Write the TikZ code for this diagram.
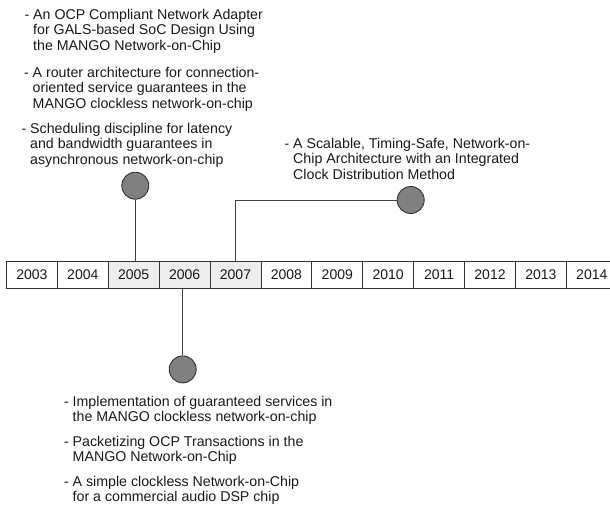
\documentclass[tikz,border=0pt]{standalone}
\usepackage{fontspec}
\setmainfont{Liberation Sans}
\begin{document}
\begin{tikzpicture}[x=1pt,y=-1pt,
  year/.style={draw=black!80, line width=0.9pt, minimum width=50.9pt,
    minimum height=27pt, inner sep=0, anchor=north west,
    font=\fontsize{14}{16}\selectfont, text=black!90},
  hit/.style={year, fill=black!7},
  event/.style={circle, draw=black!80, fill=black!50, line width=0.9pt,
    minimum size=27pt, inner sep=0},
  stem/.style={draw=black!75, line width=0.9pt},
  % anchored on the baseline of the last line
  paper/.style={anchor=base west, align=left, inner sep=0,
    font=\fontsize{14.2}{15.6}\selectfont, text=black!90}]
\useasboundingbox (0,0) rectangle (610,504);
\clip (0,0) rectangle (610,504);

% year scale
\foreach \yr/\st [count=\i from 0] in {2003/year,2004/year,2005/hit,2006/hit,
    2007/hit,2008/year,2009/year,2010/year,2011/year,2012/year,2013/year,2014/year}
  \node[\st] (y\yr) at ({6+50.9*\i},260.7) {\yr};

% event markers
\node[event] (p2005) at (135.3,185.7) {};
\node[event] (p2006) at (182.7,369.4) {};
\node[event] (p2007) at (410.7,200) {};

% stems
\draw[stem] (p2005.south) -- (p2005.south |- y2005.north);
\draw[stem] (y2006.south -| p2006.north) -- (p2006.north);
\draw[stem] (p2007.west) -| (y2007.north);

% publications
\node[paper] (a1) at (33,50.2) {\llap{- }An OCP Compliant Network Adapter\\
  for GALS-based SoC Design Using\\the MANGO Network-on-Chip};
\node[paper] (a2) at (32.5,108.2) {\llap{- }A router architecture for connection-\\
  oriented service guarantees in the\\MANGO clockless network-on-chip};
\node[paper] (a3) at (30,164.2) {\llap{- }Scheduling discipline for latency\\
  and bandwidth guarantees in\\asynchronous network-on-chip};
\node[paper] (b1) at (293,179.2) {\llap{- }A Scalable, Timing-Safe, Network-on-\\
  Chip Architecture with an Integrated\\Clock Distribution Method};
\node[paper] (c1) at (72.5,421.6) {\llap{- }Implementation of guaranteed services in\\
  the MANGO clockless network-on-chip};
\node[paper] (c2) at (72.5,461.6) {\llap{- }Packetizing OCP Transactions in the\\
  MANGO Network-on-Chip};
\node[paper] (c3) at (72.5,501.6) {\llap{- }A simple clockless Network-on-Chip\\
  for a commercial audio DSP chip};
\end{tikzpicture}
\end{document}
